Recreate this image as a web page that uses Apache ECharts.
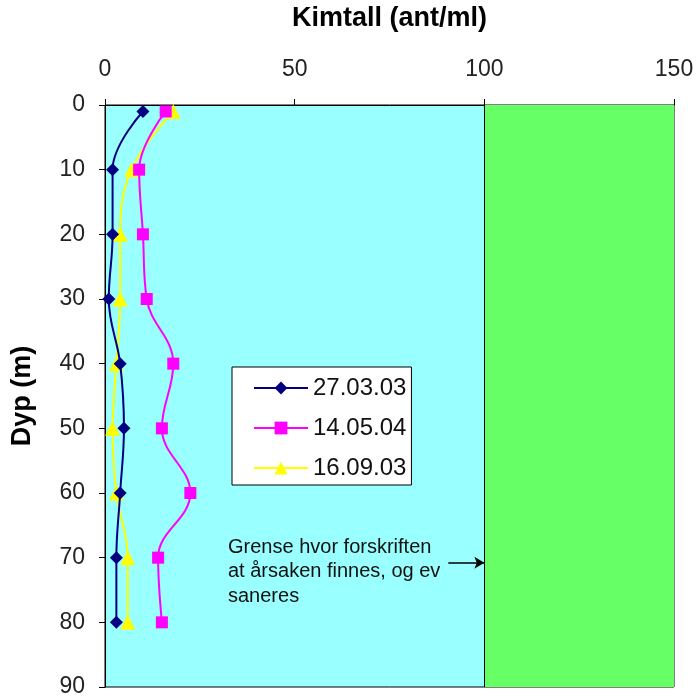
<!DOCTYPE html>
<html>
<head>
<meta charset="utf-8">
<script src="https://cdn.jsdelivr.net/npm/echarts@6/dist/echarts.min.js"></script>
<style>html,body{margin:0;padding:0;background:#fff}#c{width:698px;height:698px}</style>
</head>
<body>
<div id="c"></div>
<script>
var depths = [1, 10, 20, 30, 40, 50, 60, 70, 80];
var s1Name = '27.03.03';
var s1 = [10, 2, 2, 1, 4, 5, 4, 3, 3];
var s2Name = '14.05.04';
var s2 = [16, 9, 10, 11, 18, 15, 22.5, 14, 15];
var s3Name = '16.09.03';
var s3 = [18, 7, 4, 4, 3, 2, 3, 6, 6];
var limitValue = 100;
var arrowDepth = 70.8;
var arrowStart = 90.5;

function pairs(vals){ return vals.map(function(v,i){ return [v, depths[i]]; }); }

var font = 'Liberation Sans, Arial, sans-serif';
var chart = echarts.init(document.getElementById('c'), null, {renderer:'canvas'});
chart.setOption({
  animation: false,
  grid: {left: 105, top: 105, width: 569, height: 582, containLabel: false, outerBoundsMode: 'none',
    show: true, backgroundColor: '#99FFFF', borderColor: '#000', borderWidth: 1},
  xAxis: {
    type: 'value', position: 'top', min: 0, max: 150, interval: 50,
    name: 'Kimtall (ant/ml)', nameLocation: 'middle', nameGap: 73,
    nameTextStyle: {fontFamily: font, fontSize: 27, fontWeight: 'bold', color: '#000'},
    axisLine: {show: true, lineStyle: {color: '#000', width: 1}},
    axisTick: {show: true, length: 6, lineStyle: {color: '#000'}},
    axisLabel: {fontFamily: font, fontSize: 23, color: '#222', margin: 24},
    splitLine: {show: false}
  },
  yAxis: {
    type: 'value', inverse: true, min: 0, max: 90, interval: 10,
    name: 'Dyp (m)', nameLocation: 'middle', nameGap: 69, nameRotate: 90,
    nameTextStyle: {fontFamily: font, fontSize: 27, fontWeight: 'bold', color: '#000'},
    axisLine: {show: true, lineStyle: {color: '#000', width: 1}},
    axisTick: {show: true, length: 6, lineStyle: {color: '#000'}},
    axisLabel: {fontFamily: font, fontSize: 23, color: '#222', margin: 20},
    splitLine: {show: false}
  },
  legend: {
    orient: 'vertical', left: 232, top: 367,
    backgroundColor: '#fff', borderColor: '#000', borderWidth: 1,
    padding: [9, 5, 5, 21], itemGap: 16, itemWidth: 54, itemHeight: 16,
    textStyle: {fontFamily: font, fontSize: 24, color: '#111'},
    data: [s1Name, s2Name, s3Name]
  },
  series: [
    {
      name: s1Name, type: 'line', data: pairs(s1), smooth: 0.4,
      symbol: 'diamond', symbolSize: 13,
      itemStyle: {color: '#000080'}, lineStyle: {color: '#000080', width: 2},
      z: 5,
      markArea: {silent: true, itemStyle: {color: '#66FF66', opacity: 1}, data: [[{xAxis: limitValue, yAxis: 0}, {xAxis: 150, yAxis: 90}]]},
      markLine: {silent: true, symbol: ['none','none'], label: {show: false}, lineStyle: {color: '#000', type: 'solid', width: 1}, data: [{xAxis: limitValue}]}
    },
    {
      name: s2Name, type: 'line', data: pairs(s2), smooth: 0.4,
      symbol: 'rect', symbolSize: 12,
      itemStyle: {color: '#FF00FF'}, lineStyle: {color: '#FF00FF', width: 2},
      z: 4,
      markLine: {silent: true, symbol: ['none','arrow'], symbolSize: [9, 10], label: {show: false}, lineStyle: {color: '#000', type: 'solid', width: 1.5},
        data: [[{coord: [arrowStart, arrowDepth]}, {coord: [limitValue, arrowDepth]}]]}
    },
    {
      name: s3Name, type: 'line', data: pairs(s3), smooth: 0.4,
      symbol: 'triangle', symbolSize: 15,
      itemStyle: {color: '#FFFF00'}, lineStyle: {color: '#FFFF00', width: 2},
      z: 3
    }
  ],
  graphic: [{
    type: 'text', left: 228, top: 535,
    style: {text: 'Grense hvor forskriften\nat årsaken finnes, og ev\nsaneres', font: '20px ' + font, fill: '#111', lineHeight: 24.5}
  }]
});
</script>
</body>
</html>
